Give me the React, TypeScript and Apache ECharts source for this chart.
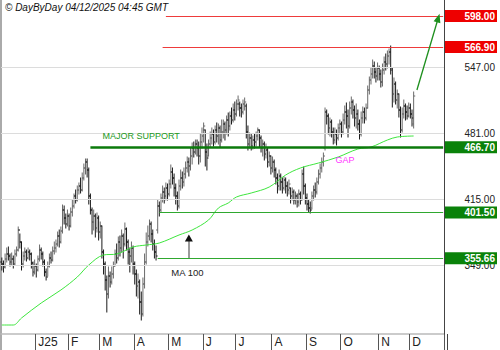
import React, { useEffect, useRef } from 'react';
import * as echarts from 'echarts';

const FONT = "'Liberation Sans', Arial, sans-serif";

// month ticks (trading-day index of first session) and labels
const monthStarts = [21, 41, 60, 81, 102, 123, 143, 165, 186, 207, 230, 249];
const monthLabels = ['J25', 'F', 'M', 'A', 'M', 'J', 'J', 'A', 'S', 'O', 'N', 'D'];
const categoryCount = 270;

const opens = [
  352,350,347,355,360,358,352,355,350,360,
  364,384,372,350,358,362,356,362,360,351,
  342,348,344,355,364,360,352,342,337,348,
  356,354,363,366,370,378,372,383,404,396,
  390,398,388,402,408,418,414,424,428,424,
  436,446,452,444,418,404,392,398,386,396,
  382,388,362,350,334,320,338,332,340,348,
  360,356,372,366,378,370,385,372,362,358,
  366,350,340,328,332,312,300,330,352,372,
  378,390,380,370,362,384,408,404,416,422,
  418,426,420,430,442,436,426,418,408,428,
  436,432,440,446,452,448,458,466,462,470,
  466,458,472,478,484,462,458,470,476,480,
  472,484,478,486,474,482,490,484,494,488,
  498,494,504,500,510,510,506,502,510,508,
  482,470,476,468,474,472,478,484,476,466,
  470,460,464,452,458,446,452,444,436,428,
  438,432,426,434,428,424,426,418,422,414,
  418,412,420,414,440,428,416,410,406,406,
  418,424,422,432,440,446,452,466,502,498,
  486,492,482,474,480,476,486,490,482,494,
  502,498,488,506,512,504,496,500,490,480,
  496,502,496,506,524,534,540,548,542,538,
  546,540,532,544,552,550,558,562,544,520,
  530,514,520,504,484,500,508,502,498,506,
  500,490,
];
const highs = [
  356,353,360,366,367,360,361,358,364,367,
  387,380,372,362,366,364,366,364,361,352,
  354,350,358,369,366,362,354,345,352,360,
  362,367,372,374,382,384,387,409,408,400,
  404,400,406,414,420,424,428,431,436,441,
  450,455,455,446,420,406,404,400,401,398,
  392,388,364,352,338,347,342,347,352,364,
  370,377,378,384,380,391,386,374,366,372,
  368,352,344,340,334,322,336,360,381,388,
  394,392,384,374,368,414,412,420,428,426,
  431,430,434,449,446,440,430,422,434,444,
  442,446,452,457,456,466,471,472,474,474,
  472,480,486,491,484,470,474,482,486,484,
  488,491,490,488,494,494,492,498,501,502,
  506,510,512,514,518,512,510,514,516,510,
  488,481,480,478,480,482,486,484,478,474,
  472,470,466,462,458,457,454,446,440,444,
  440,436,437,436,432,434,426,426,424,422,
  420,424,422,444,447,430,420,414,412,422,
  428,431,436,444,450,456,461,506,504,500,
  496,494,486,486,484,490,494,492,500,508,
  511,504,512,517,514,508,510,504,494,502,
  507,506,510,528,537,546,554,552,546,551,
  548,544,550,557,560,563,565,568,546,536,
  532,524,520,507,506,514,510,508,511,510,
  504,522,
];
const lows = [
  344,342,346,352,354,348,349,346,349,358,
  363,366,344,347,354,353,355,354,346,338,
  340,337,343,353,355,348,338,334,338,347,
  351,353,360,362,368,367,371,381,390,386,
  388,384,387,398,406,411,413,420,421,423,
  434,440,437,410,400,380,384,377,382,374,
  376,356,340,324,302,316,327,330,336,348,
  351,354,358,362,356,368,364,350,342,352,
  340,330,318,316,300,294,298,326,350,368,
  374,372,364,356,354,381,398,402,412,411,
  414,414,418,426,430,418,410,404,406,424,
  426,428,436,442,438,444,450,457,460,458,
  450,452,466,472,448,444,458,467,470,468,
  470,472,470,467,472,476,474,480,478,484,
  490,492,494,498,504,498,497,500,504,476,
  464,466,464,465,466,468,474,467,462,458,
  454,456,447,448,440,442,437,430,421,424,
  424,421,424,421,418,420,411,414,410,410,
  407,408,410,414,420,410,404,402,401,405,
  414,417,420,430,436,442,448,464,490,480,
  478,477,470,471,469,474,480,477,480,490,
  486,477,486,500,496,488,486,484,475,478,
  491,491,494,506,520,530,536,536,532,534,
  534,527,528,540,544,546,550,540,507,512,
  510,506,497,477,482,496,494,495,497,496,
  488,486,
];
const closes = [
  350,347,355,360,358,352,355,350,360,364,
  384,372,350,358,362,356,362,360,351,342,
  348,344,355,364,360,352,342,337,348,356,
  354,363,366,370,378,372,383,404,396,390,
  398,388,402,408,418,414,424,428,424,436,
  446,452,444,418,404,392,398,386,396,382,
  388,362,350,334,320,338,332,340,348,360,
  356,372,366,378,370,385,372,362,358,366,
  350,340,328,332,312,300,330,352,372,378,
  390,380,370,362,358,408,404,416,422,418,
  426,420,430,442,436,426,418,408,428,436,
  432,440,446,452,448,458,466,462,470,466,
  458,472,478,488,462,456,470,476,480,472,
  484,478,486,474,482,490,484,494,488,498,
  494,504,500,510,514,506,502,510,512,482,
  470,476,468,474,472,478,484,476,466,470,
  460,464,452,458,446,452,444,436,428,438,
  432,426,434,428,424,430,418,422,414,418,
  412,420,414,440,428,416,410,406,404,418,
  424,422,432,440,446,452,458,502,498,486,
  492,482,474,480,476,486,490,482,494,502,
  498,488,506,512,504,496,500,490,480,496,
  502,496,506,524,534,540,548,542,538,546,
  540,532,544,552,550,558,562,546,520,530,
  514,520,504,484,500,508,502,498,506,500,
  496,518,
];

// 100-day moving average, read at sample sessions
const maIdx = [0,7,12,24,36,46,53,62,70,80,88,96,108,116,126,132,138,143,152,163,173,182,193,205,217,225,235,241,251];
const maVal = [289,289,296,311,324,337,349,359,360,367,369,371,379,384,394,406,411,417,421,427,439,446,451,457,465,467,474,477,478];

// horizontal levels
const levelValues = [598, 566.9, 466.7, 401.5, 355.66];
const levelKinds = ['red', 'red', 'support', 'green', 'green'];
const levelStarts = [100, 98, 54, 96, 95];
const gridValues = [349, 415, 481, 547];

const LAST = categoryCount - 1;

const plainRich = { fontSize: 10, color: '#222', width: 48, align: 'right', padding: [0, 2, 0, 2], fontFamily: FONT };

function App() {
  const ref = useRef<HTMLDivElement>(null);
  useEffect(() => {
    const chart = echarts.init(ref.current!, null, { renderer: 'svg' });
    const categories = Array.from({ length: categoryCount }, (_, i) => String(i));
    const ohlc = opens.map((o, i) => [i, o, highs[i], lows[i], closes[i]]);
    const ma = maIdx.map((x, k) => [x, maVal[k]]);

    const levelLines = levelValues.map((v, k) => {
      const kind = levelKinds[k];
      const color = kind === 'red' ? '#ee3b3b' : kind === 'support' ? '#0b7a0b' : '#2fa82f';
      const width = kind === 'support' ? 2.5 : 1;
      return [
        { coord: [levelStarts[k], v], lineStyle: { color, width, type: 'solid' } },
        { coord: [LAST, v] },
      ];
    });

    // axis labels: the lowest gridline label is drawn under the 355.66 box
    const axisValues = [355.66, 401.5, 415, 466.7, 481, 547, 566.9, 598];

    const option: any = {
      animation: false,
      textStyle: { fontFamily: FONT },
      title: {
        text: '© DayByDay 04/12/2025 04:45 GMT',
        left: 3,
        top: 1,
        padding: [1, 2],
        textStyle: { fontFamily: FONT, fontStyle: 'italic', fontWeight: 'normal', fontSize: 10, color: '#111' },
      },
      grid: { left: 1, right: 53, top: 0, bottom: 16 },
      xAxis: {
        type: 'category',
        data: categories,
        boundaryGap: true,
        axisLine: { show: true, lineStyle: { color: '#bbb', width: 1.5 } },
        axisTick: {
          show: true,
          length: 16,
          interval: (i: number) => monthStarts.indexOf(i) >= 0,
          lineStyle: { color: '#555', width: 1 },
        },
        axisLabel: {
          interval: (i: number) => monthStarts.indexOf(i) >= 0,
          formatter: (v: string) => {
            const k = monthStarts.indexOf(Number(v));
            return k >= 0 ? monthLabels[k] : '';
          },
          align: 'left',
          padding: [0, 0, 0, 2],
          margin: 2,
          fontSize: 12,
          color: '#222',
          fontFamily: FONT,
        },
        splitLine: { show: false },
      },
      yAxis: {
        type: 'value',
        position: 'right',
        min: 280,
        max: 614,
        z: 5,
        axisLine: { show: true, lineStyle: { color: '#444', width: 1 } },
        axisTick: { show: false },
        splitLine: { show: false },
        axisLabel: {
          customValues: axisValues,
          margin: 1,
          formatter: (v: number) => {
            const txt = Number(v).toFixed(2);
            const k = levelValues.findIndex((x) => Math.abs(x - v) < 0.001);
            if (k < 0) return `{p|${txt}}`;
            return levelKinds[k] === 'red' ? `{r|${txt}}` : `{g|${txt}}`;
          },
          rich: {
            p: plainRich,
            r: { fontSize: 10, fontWeight: 'bold', color: '#fff', backgroundColor: '#ee0000', width: 48, align: 'right', padding: [1, 2, 1, 2], lineHeight: 10, fontFamily: FONT },
            g: { fontSize: 10, fontWeight: 'bold', color: '#fff', backgroundColor: '#0a820a', width: 48, align: 'right', padding: [1, 2, 1, 2], lineHeight: 10, fontFamily: FONT },
          },
        },
      },
      graphic: [
        { type: 'line', shape: { x1: 1, y1: 0, x2: 1, y2: 350 }, style: { stroke: '#aaa', lineWidth: 2 }, silent: true },
        { type: 'line', shape: { x1: 447.5, y1: 334, x2: 447.5, y2: 350 }, style: { stroke: '#444', lineWidth: 1 }, silent: true },
      ],
      series: [
        {
          type: 'line',
          name: 'grid',
          data: ma,
          showSymbol: false,
          silent: true,
          z: 1,
          lineStyle: { opacity: 0, width: 0 },
          markLine: {
            silent: true,
            symbol: ['none', 'none'],
            label: { show: false },
            lineStyle: { color: '#dcdcdc', width: 1, type: 'solid' },
            data: gridValues.map((v) =>
              axisValues.indexOf(v) >= 0
                ? { yAxis: v }
                : {
                    yAxis: v,
                    label: {
                      show: true,
                      position: 'end',
                      distance: 1,
                      formatter: '{p|' + v.toFixed(2) + '}',
                      rich: { p: plainRich },
                    },
                  }
            ),
          },
        },
        {
          type: 'custom',
          name: 'price',
          z: 2,
          silent: true,
          data: ohlc,
          encode: { x: 0, y: [1, 2, 3, 4] },
          renderItem: (params: any, api: any) => {
            const i = api.value(0);
            const o = api.value(1);
            const h = api.value(2);
            const l = api.value(3);
            const c = api.value(4);
            const pH = api.coord([i, h]);
            const pL = api.coord([i, l]);
            const pO = api.coord([i, o]);
            const pC = api.coord([i, c]);
            const x = pH[0];
            const color = c >= o ? '#6a6a6a' : '#1a1a1a';
            const style = { stroke: color, lineWidth: 1 };
            return {
              type: 'group',
              children: [
                { type: 'line', shape: { x1: x, y1: pH[1] - 0.5, x2: x, y2: pL[1] + 0.5 }, style },
                { type: 'line', shape: { x1: x - 1.6, y1: pO[1], x2: x, y2: pO[1] }, style },
                { type: 'line', shape: { x1: x, y1: pC[1], x2: x + 1.6, y2: pC[1] }, style },
              ],
            };
          },
        },
        {
          type: 'line',
          name: 'MA 100',
          data: ma,
          smooth: 0.35,
          showSymbol: false,
          silent: true,
          z: 3,
          lineStyle: { color: '#3ee63e', width: 1 },
        },
        {
          type: 'line',
          name: 'levels',
          data: ma,
          showSymbol: false,
          silent: true,
          z: 4,
          lineStyle: { opacity: 0, width: 0 },
          markLine: {
            silent: true,
            symbol: ['none', 'none'],
            label: { show: false },
            data: [
              ...levelLines,
              [
                { coord: [114, 356], lineStyle: { color: '#7a7a7a', width: 1.5, type: 'solid' } },
                { coord: [114, 374] },
              ],
              [
                { coord: [253, 524], symbol: 'none', lineStyle: { color: '#1d8f1d', width: 1.3, type: 'solid' } },
                { coord: [266, 596], symbol: 'triangle', symbolSize: [7, 9] },
              ],
            ],
          },
          markPoint: {
            silent: true,
            data: [
              {
                coord: [114, 376],
                symbol: 'triangle',
                symbolSize: [8, 7],
                itemStyle: { color: '#111' },
                label: { show: false },
              },
              {
                coord: [61.4, 478],
                symbol: 'circle',
                symbolSize: 1,
                itemStyle: { color: 'rgba(0,0,0,0)' },
                label: { show: true, position: 'right', distance: 0, formatter: 'MAJOR SUPPORT', color: '#229922', fontSize: 9, fontFamily: FONT },
              },
              {
                coord: [203, 454],
                symbol: 'circle',
                symbolSize: 1,
                itemStyle: { color: 'rgba(0,0,0,0)' },
                label: { show: true, position: 'right', distance: 0, formatter: 'GAP', color: '#ff33ff', fontSize: 9, fontFamily: FONT },
              },
              {
                coord: [102.6, 342],
                symbol: 'circle',
                symbolSize: 1,
                itemStyle: { color: 'rgba(0,0,0,0)' },
                label: { show: true, position: 'right', distance: 0, formatter: 'MA 100', color: '#222', fontSize: 9.5, fontFamily: FONT },
              },
            ],
          },
        },
      ],
    };
    chart.setOption(option);
    return () => chart.dispose();
  }, []);
  return (
    <div
      ref={ref}
      style={{ position: 'fixed', left: 0, top: 0, width: 500, height: 350, background: '#fff' }}
    />
  );
}

export default App;
